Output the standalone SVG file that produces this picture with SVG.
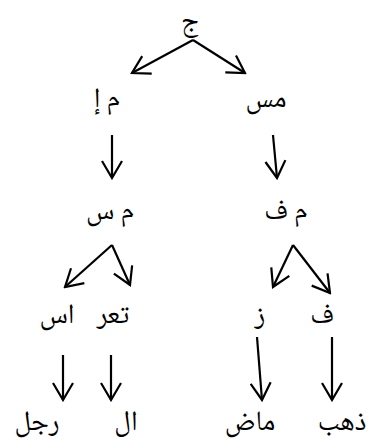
<svg xmlns="http://www.w3.org/2000/svg" width="375" height="448" viewBox="0 0 375 448">
<defs>
<style>
.t{font-family:"Noto Naskh Arabic","Amiri","Liberation Serif","DejaVu Sans",serif;font-size:28px;fill:#000;text-anchor:middle}
.c line{stroke:#000;stroke-width:2.2;marker-end:url(#ah)}
</style>
<marker id="ah" markerUnits="userSpaceOnUse" viewBox="-20 -12 22 24" refX="0" refY="0" markerWidth="22" markerHeight="24" orient="auto">
<path d="M-17,-10 L0,0 L-17,10" fill="none" stroke="#000" stroke-width="2.2" stroke-linejoin="miter"/>
</marker>
</defs>
<rect width="375" height="448" fill="#fff"/>
<g id="n-jim"><text class="t" x="190" y="30">ج</text></g>
<g id="n-mi"><text class="t" x="107" y="107">م إ</text></g>
<g id="n-mus"><text class="t" x="266" y="107">مس</text></g>
<g id="n-ms"><text class="t" x="110" y="219">م س</text></g>
<g id="n-mf"><text class="t" x="286" y="219">م ف</text></g>
<g id="n-is"><text class="t" x="57" y="323">اس</text></g>
<g id="n-tar"><text class="t" x="113" y="323">تعر</text></g>
<g id="n-z"><text class="t" x="260" y="323">ز</text></g>
<g id="n-f"><text class="t" x="322" y="323">ف</text></g>
<g id="n-rajul"><text class="t" x="37" y="430">رجل</text></g>
<g id="n-al"><text class="t" x="126" y="430">ال</text></g>
<g id="n-mad"><text class="t" x="250" y="430">ماض</text></g>
<g id="n-dhahab"><text class="t" x="342" y="430">ذهب</text></g>
<g id="connectors" class="c">
<line x1="193" y1="40" x2="132" y2="73"/>
<line x1="193" y1="40" x2="245" y2="73"/>
<line x1="112" y1="135" x2="112" y2="178"/>
<line x1="273" y1="135" x2="277" y2="178"/>
<line x1="112" y1="245" x2="65" y2="287"/>
<line x1="112" y1="245" x2="130" y2="285"/>
<line x1="293" y1="245" x2="273" y2="287"/>
<line x1="293" y1="245" x2="330" y2="293"/>
<line x1="63" y1="355" x2="63" y2="400"/>
<line x1="111" y1="355" x2="111" y2="400"/>
<line x1="257" y1="337" x2="262" y2="400"/>
<line x1="332" y1="337" x2="332" y2="400"/>
</g>
</svg>
